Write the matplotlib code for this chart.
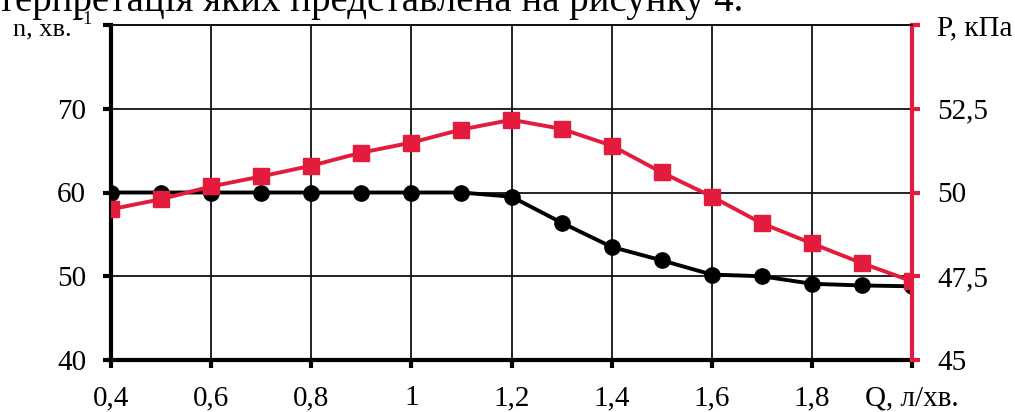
# n and P versus flow rate Q
import numpy as np
import matplotlib.pyplot as plt

plt.rcParams['font.family'] = ['Liberation Serif', 'DejaVu Serif']

# Data
q = [0.4, 0.5, 0.6, 0.7, 0.8, 0.9, 1.0, 1.1, 1.2,
     1.3, 1.4, 1.5, 1.6, 1.7, 1.8, 1.9, 2.0]
n_speed = [60, 60, 60, 60, 60, 60, 60, 60, 59.5,
           56.4, 53.5, 51.9, 50.2, 50.0, 49.1, 48.9, 48.8]
p_press = [49.5, 49.8, 50.18, 50.48, 50.8, 51.19, 51.49, 51.88, 52.17,
           51.9, 51.4, 50.6, 49.88, 49.08, 48.48, 47.89, 47.35]

x_ticks = [0.4, 0.6, 0.8, 1.0, 1.2, 1.4, 1.6, 1.8, 2.0]
x_labels = ['0,4', '0,6', '0,8', '1', '1,2', '1,4', '1,6', '1,8', 'Q, л/хв.']
n_ticks = [40, 50, 60, 70, 80]
n_labels = ['40', '50', '60', '70', '']
p_ticks = [45, 47.5, 50, 52.5, 55]
p_labels = ['45', '47,5', '50', '52,5', 'P, кПа']

red = '#e31c3d'

fig = plt.figure(figsize=(10.15, 4.12), dpi=100)
ax = fig.add_axes([111 / 1015, 1 - 360 / 412, 801 / 1015, 335 / 412])
ax2 = ax.twinx()

# grid
ax.set_xlim(0.4, 2.0)
ax.set_ylim(40, 80)
ax2.set_ylim(45, 55)
ax.set_xticks(x_ticks)
ax.set_xticklabels(x_labels)
ax.set_yticks(n_ticks)
ax.set_yticklabels(n_labels)
ax2.set_yticks(p_ticks)
ax2.set_yticklabels(p_labels)
ax.grid(True, color='#111111', linewidth=1.3)
ax.set_axisbelow(True)

ax.plot(q, n_speed, color='black', linewidth=2.8, marker='o',
        markersize=11, zorder=3)
ax2.plot(q, p_press, color=red, linewidth=2.8, marker='s',
         markersize=11, zorder=3)

# spines
for a in (ax, ax2):
    a.spines['top'].set_linewidth(1.3)
    a.spines['top'].set_color('#111111')
ax.spines['left'].set_linewidth(3)
ax.spines['bottom'].set_linewidth(3)
ax.spines['right'].set_visible(False)
ax2.spines['left'].set_visible(False)
ax2.spines['bottom'].set_visible(False)
ax2.spines['right'].set_linewidth(3)
ax2.spines['right'].set_color(red)

ax.tick_params(axis='both', labelsize=21, length=6, width=3, direction='out')
ax.tick_params(axis='y', pad=12)
ax.tick_params(axis='x', pad=12)
ax2.tick_params(axis='y', labelsize=21, length=6, width=3, color=red,
                pad=12)

# caption line cut off at the top of the picture
fig.text(-0.002, 1 - 11 / 412, 'терпретація яких представлена на рисунку 4.',
         fontsize=28, va='baseline', ha='left', zorder=1)

# unit label of the left axis, with a small raised "-1"
fig.text(72 / 1015, 1 - 35 / 412, 'n, хв.', fontsize=19,
         ha='right', va='baseline', zorder=5)
fig.text(73 / 1015, 1 - 24 / 412, '\u22121', fontsize=13,
         ha='left', va='baseline', zorder=5)

fig.savefig('out.png', dpi=100)
